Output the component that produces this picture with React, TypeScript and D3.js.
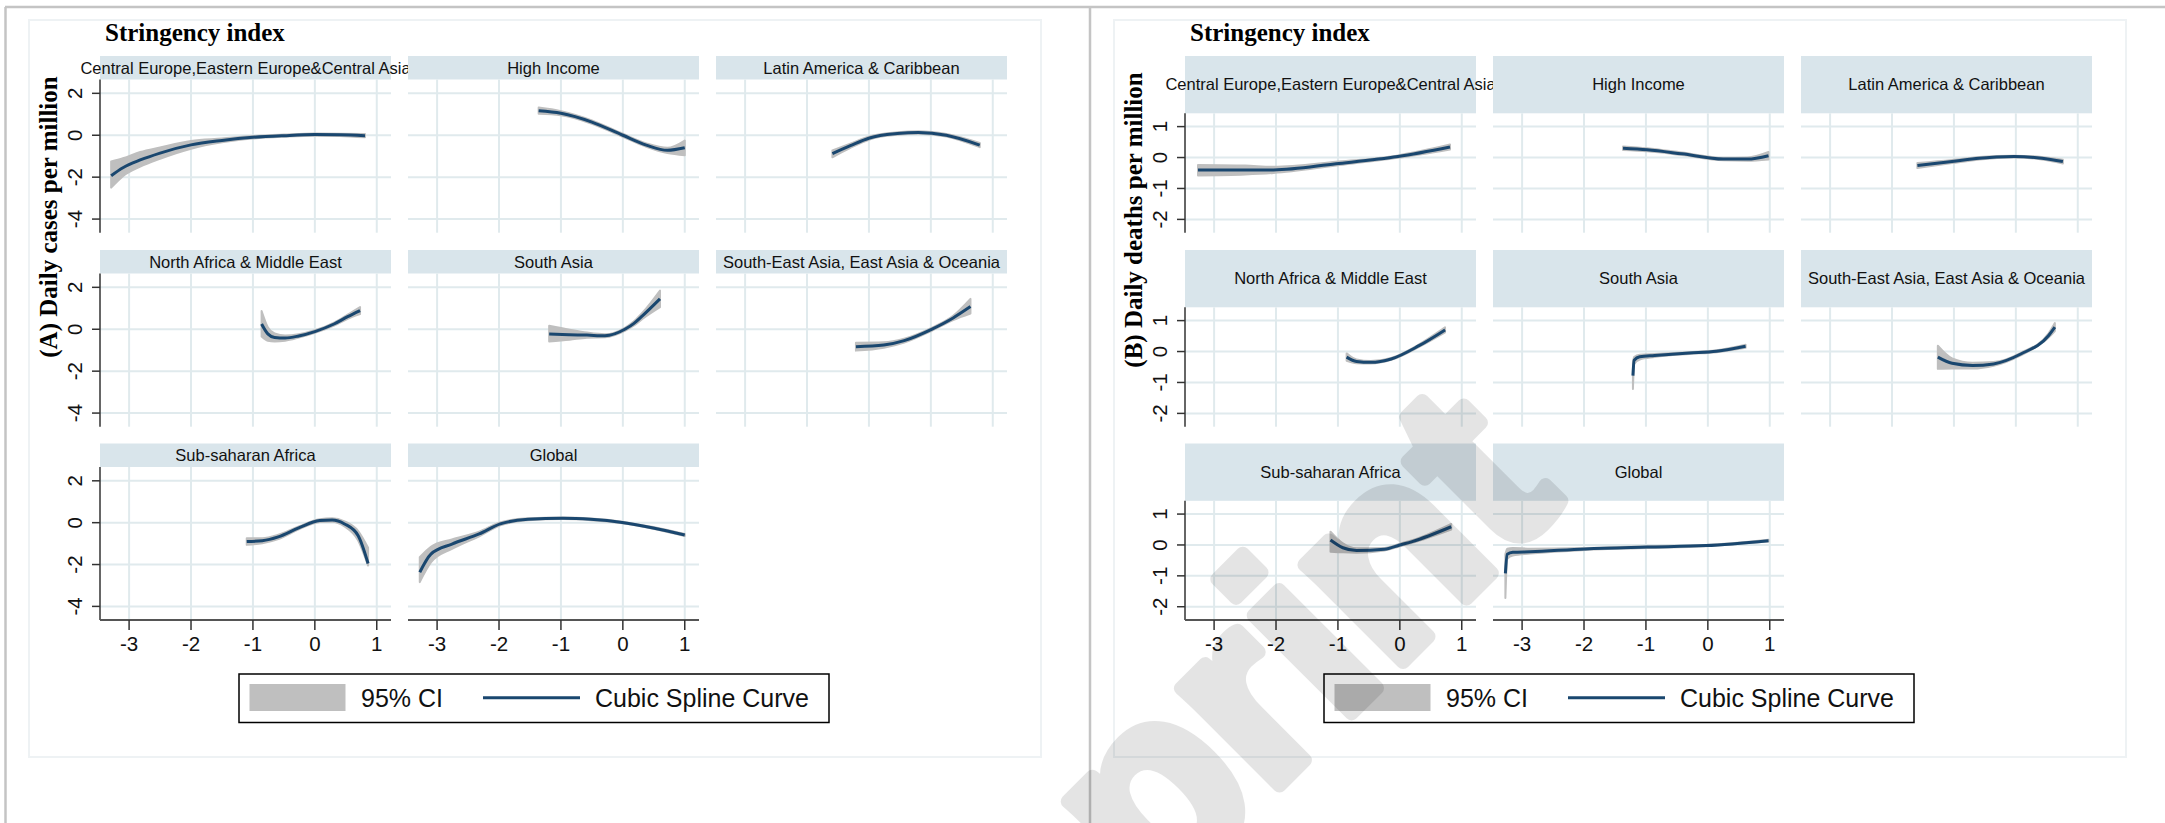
import React from 'react';
import * as d3 from 'd3';

const regions = [
  'Central Europe,Eastern Europe&Central Asia',
  'High Income',
  'Latin America & Caribbean',
  'North Africa & Middle East',
  'South Asia',
  'South-East Asia, East Asia & Oceania',
  'Sub-saharan Africa',
  'Global',
];
const xTicks = [-3, -2, -1, 0, 1];
const caseTicks = [2, 0, -2, -4];
const deathTicks = [1, 0, -1, -2];
const legendLabels = ['95% CI', 'Cubic Spline Curve'];

// rows: [stringency index, spline fit, lower 95% CI, upper 95% CI]
const casesCentralEurope = [
  [-3.29, -1.93, -2.5, -1.25], [-3.1, -1.55, -1.95, -1.1], [-2.82, -1.18, -1.5, -0.8],
  [-2.5, -0.85, -1.12, -0.58], [-2.0, -0.46, -0.64, -0.27], [-1.5, -0.25, -0.34, -0.16],
  [-1.0, -0.1, -0.16, -0.04], [-0.5, -0.02, -0.07, 0.03], [0.0, 0.03, -0.02, 0.08],
  [0.4, 0.02, -0.03, 0.07], [0.81, -0.02, -0.1, 0.06],
];
const casesHighIncome = [
  [-1.36, 1.17, 1.02, 1.32], [-1.0, 1.05, 0.95, 1.15], [-0.5, 0.63, 0.55, 0.71],
  [0.0, 0.0, -0.07, 0.07], [0.38, -0.47, -0.55, -0.39], [0.72, -0.72, -0.85, -0.6],
  [1.0, -0.6, -0.95, -0.25],
];
const casesLatinAmerica = [
  [-1.59, -0.88, -1.05, -0.72], [-1.3, -0.5, -0.6, -0.4], [-0.99, -0.13, -0.2, -0.06],
  [-0.54, 0.08, 0.02, 0.14], [-0.2, 0.13, 0.07, 0.19], [0.25, 0.0, -0.06, 0.06],
  [0.79, -0.47, -0.57, -0.37],
];
const casesNorthAfrica = [
  [-0.86, 0.25, -0.35, 0.87], [-0.76, -0.22, -0.55, 0.1], [-0.65, -0.39, -0.58, -0.2],
  [-0.48, -0.42, -0.55, -0.3], [-0.26, -0.32, -0.4, -0.24], [0.0, -0.11, -0.17, -0.05],
  [0.31, 0.25, 0.18, 0.32], [0.53, 0.6, 0.5, 0.7], [0.73, 0.89, 0.72, 1.06],
];
const casesSouthAsia = [
  [-1.19, -0.23, -0.58, 0.17], [-0.86, -0.26, -0.5, -0.02], [-0.58, -0.28, -0.4, -0.16],
  [-0.29, -0.31, -0.38, -0.24], [0.04, 0.01, -0.06, 0.08], [0.18, 0.28, 0.18, 0.38],
  [0.32, 0.65, 0.5, 0.8], [0.6, 1.45, 1.05, 1.85],
];
const casesSEAsia = [
  [-1.21, -0.83, -1.02, -0.64], [-0.76, -0.75, -0.88, -0.62], [-0.43, -0.54, -0.63, -0.45],
  [0.02, 0.01, -0.06, 0.08], [0.36, 0.54, 0.44, 0.64], [0.64, 1.08, 0.75, 1.45],
];
const casesSubSaharan = [
  [-1.1, -0.9, -1.06, -0.74], [-0.85, -0.86, -0.98, -0.74], [-0.59, -0.68, -0.78, -0.58],
  [-0.26, -0.25, -0.32, -0.18], [0.08, 0.1, 0.03, 0.17], [0.28, 0.13, 0.05, 0.21],
  [0.48, -0.06, -0.18, 0.06], [0.7, -0.62, -0.85, -0.4], [0.86, -1.95, -2.05, -1.2],
];
const casesGlobal = [
  [-3.28, -2.37, -2.84, -1.65], [-3.1, -1.5, -1.9, -1.15], [-2.76, -1.02, -1.25, -0.8],
  [-2.32, -0.54, -0.65, -0.43], [-1.98, -0.06, -0.13, 0.01], [-1.53, 0.16, 0.11, 0.21],
  [-0.97, 0.21, 0.17, 0.25], [-0.52, 0.16, 0.12, 0.2], [-0.01, 0.01, -0.03, 0.05],
  [0.49, -0.25, -0.29, -0.21], [1.0, -0.59, -0.64, -0.54],
];

const deathsCentralEurope = [
  [-3.26, -0.4, -0.58, -0.24], [-2.5, -0.4, -0.55, -0.26], [-2.04, -0.4, -0.5, -0.3],
  [-1.03, -0.2, -0.26, -0.14], [-0.03, 0.03, -0.01, 0.07], [0.81, 0.34, 0.26, 0.42],
];
const deathsHighIncome = [
  [-1.37, 0.3, 0.24, 0.36], [-0.98, 0.25, 0.2, 0.3], [-0.42, 0.12, 0.08, 0.16],
  [0.25, -0.05, -0.09, -0.01], [0.64, -0.05, -0.1, 0.0], [0.98, 0.06, -0.06, 0.18],
];
const deathsLatinAmerica = [
  [-1.59, -0.26, -0.34, -0.18], [-1.03, -0.13, -0.18, -0.08], [-0.59, -0.02, -0.06, 0.02],
  [-0.03, 0.03, 0.0, 0.06], [0.42, -0.02, -0.06, 0.02], [0.76, -0.13, -0.19, -0.07],
];
const deathsNorthAfrica = [
  [-0.86, -0.18, -0.3, -0.06], [-0.7, -0.32, -0.38, -0.26], [-0.47, -0.35, -0.39, -0.31],
  [-0.14, -0.24, -0.27, -0.21], [0.31, 0.19, 0.15, 0.23], [0.73, 0.7, 0.62, 0.78],
];
const deathsSouthAsia = [
  [-1.21, -0.78, -1.21, -0.35], [-1.19, -0.28, -0.4, -0.18], [-1.1, -0.17, -0.26, -0.1],
  [-0.86, -0.13, -0.18, -0.08], [-0.3, -0.05, -0.08, -0.02], [0.14, 0.01, -0.02, 0.04],
  [0.61, 0.17, 0.12, 0.22],
];
const deathsSEAsia = [
  [-1.26, -0.18, -0.56, 0.19], [-1.03, -0.38, -0.55, -0.22], [-0.7, -0.45, -0.55, -0.36],
  [-0.36, -0.4, -0.46, -0.34], [0.08, -0.08, -0.12, -0.04], [0.53, 0.52, 0.45, 0.59],
  [0.63, 0.79, 0.66, 0.92],
];
const deathsSubSaharan = [
  [-1.12, 0.16, -0.22, 0.43], [-0.92, -0.09, -0.24, 0.05], [-0.7, -0.18, -0.25, -0.11],
  [-0.25, -0.14, -0.18, -0.1], [0.0, 0.0, -0.04, 0.04], [0.2, 0.11, 0.07, 0.15],
  [0.83, 0.59, 0.5, 0.68],
];
const deathsGlobal = [
  [-3.27, -0.92, -1.72, -0.3], [-3.24, -0.3, -0.45, -0.12], [-3.15, -0.24, -0.34, -0.1],
  [-2.87, -0.22, -0.28, -0.12], [-1.98, -0.13, -0.16, -0.1], [-0.98, -0.07, -0.1, -0.04],
  [-0.03, -0.02, -0.04, 0.0], [0.98, 0.14, 0.11, 0.17],
];

const casesPanels = [casesCentralEurope, casesHighIncome, casesLatinAmerica, casesNorthAfrica,
  casesSouthAsia, casesSEAsia, casesSubSaharan, casesGlobal];
const deathsPanels = [deathsCentralEurope, deathsHighIncome, deathsLatinAmerica, deathsNorthAfrica,
  deathsSouthAsia, deathsSEAsia, deathsSubSaharan, deathsGlobal];

const W = 2165;
const H = 823;
const colLeft = [100, 408, 716];
const panelW = 291;
const rowTop = [56, 250, 443.5];
const rowBottom = [232.7, 426.7, 620];
const xDomain = [-3.47, 1.23];

const SANS = '"Liberation Sans", Arial, sans-serif';
const SERIF = '"Liberation Serif", "Times New Roman", serif';
const NAVY = '#1a476f';
const CI_GREY = '#bfbfbf';
const GRID = '#e0eaed';
const STRIP = '#d9e5eb';

function Figure({ dx, yTitle, yTicks, yDomain, headerH, panels, yTitleY }) {
  return (
    <g transform={`translate(${dx},0)`}>
      <rect x={29} y={20} width={1012} height={737} fill="none" stroke="#eef2f4" strokeWidth={2} />
      <text x={105} y={41} fontFamily={SERIF} fontWeight="bold" fontSize={25}>Stringency index</text>
      <text transform={`translate(57,${yTitleY}) rotate(-90)`} textAnchor="middle"
        fontFamily={SERIF} fontWeight="bold" fontSize={25}>{yTitle}</text>

      {panels.map((data, i) => {
        const r = Math.floor(i / 3);
        const c = i % 3;
        const left = colLeft[c];
        const top = rowTop[r] + headerH;
        const bottom = rowBottom[r];
        const x = d3.scaleLinear().domain(xDomain).range([left, left + panelW]);
        const y = d3.scaleLinear().domain(yDomain).range([bottom, top]);
        const band = d3.area().x(d => x(d[0])).y0(d => y(d[2])).y1(d => y(d[3])).curve(d3.curveMonotoneX);
        const fit = d3.line().x(d => x(d[0])).y(d => y(d[1])).curve(d3.curveMonotoneX);
        return (
          <g key={i}>
            <rect x={left} y={rowTop[r]} width={panelW} height={headerH} fill={STRIP} />
            <text x={left + panelW / 2} y={rowTop[r] + headerH / 2} dy="0.35em" textAnchor="middle"
              fontFamily={SANS} fontSize={16.5} fill="#111">{regions[i]}</text>
            {xTicks.map(t => (
              <line key={'gx' + t} x1={x(t)} x2={x(t)} y1={top} y2={bottom} stroke={GRID} strokeWidth={2} />
            ))}
            {yTicks.map(t => (
              <line key={'gy' + t} x1={left} x2={left + panelW} y1={y(t)} y2={y(t)} stroke={GRID} strokeWidth={2} />
            ))}
            <path d={band(data)} fill={CI_GREY} stroke={CI_GREY} strokeWidth={2} strokeLinejoin="round" />
            <path d={fit(data)} fill="none" stroke={NAVY} strokeWidth={3} />
            {c === 0 && (
              <g>
                <line x1={left} x2={left} y1={top} y2={bottom} stroke="#333" strokeWidth={1.5} />
                {yTicks.map(t => (
                  <g key={'yt' + t}>
                    <line x1={left - 8} x2={left} y1={y(t)} y2={y(t)} stroke="#333" strokeWidth={1.5} />
                    <text transform={`translate(${left - 18},${y(t)}) rotate(-90)`} textAnchor="middle"
                      fontFamily={SANS} fontSize={20.5} fill="#111">{t}</text>
                  </g>
                ))}
              </g>
            )}
            {r === 2 && (
              <g>
                <line x1={left} x2={left + panelW} y1={bottom} y2={bottom} stroke="#555" strokeWidth={2} />
                {xTicks.map(t => (
                  <g key={'xt' + t}>
                    <line x1={x(t)} x2={x(t)} y1={bottom} y2={bottom + 10} stroke="#333" strokeWidth={1.5} />
                    <text x={x(t)} y={650.7} textAnchor="middle" fontFamily={SANS} fontSize={20.5} fill="#111">{t}</text>
                  </g>
                ))}
              </g>
            )}
          </g>
        );
      })}

      <rect x={239} y={674} width={590} height={48.5} fill="#fff" stroke="#000" strokeWidth={1.5} />
      <rect x={249.5} y={684} width={96} height={27} fill={CI_GREY} />
      <text x={361} y={706.7} fontFamily={SANS} fontSize={25} fill="#111">{legendLabels[0]}</text>
      <line x1={483} x2={580} y1={697.7} y2={697.7} stroke={NAVY} strokeWidth={3} />
      <text x={595} y={706.7} fontFamily={SANS} fontSize={25} fill="#111">{legendLabels[1]}</text>
    </g>
  );
}

export default function App() {
  return (
    <svg width={W} height={H} viewBox={`0 0 ${W} ${H}`}
      style={{ position: 'absolute', left: 0, top: 0, background: '#fff' }}>
      <rect x={0} y={0} width={W} height={H} fill="#fff" />
      <line x1={5} x2={W} y1={7} y2={7} stroke="#c4c4c4" strokeWidth={2.5} />
      <line x1={5.5} x2={5.5} y1={7} y2={H} stroke="#c4c4c4" strokeWidth={2.5} />
      <line x1={1090} x2={1090} y1={7} y2={H} stroke="#c4c4c4" strokeWidth={2.5} />

      <Figure dx={0} yTitle="(A) Daily cases per million" yTicks={caseTicks} yDomain={[-4.65, 2.66]}
        headerH={23.5} panels={casesPanels} yTitleY={217} />
      <Figure dx={1085} yTitle="(B) Daily deaths per million" yTicks={deathTicks} yDomain={[-2.43, 1.43]}
        headerH={57.3} panels={deathsPanels} yTitleY={220} />

      <g opacity={0.1}>
        <text transform="translate(1565,500) rotate(-45)" textAnchor="end" fontFamily={SANS}
          fontWeight="bold" fontSize={262} fill="#000" stroke="#000" strokeWidth={14}
          strokeLinejoin="round">Preprint</text>
      </g>
    </svg>
  );
}
